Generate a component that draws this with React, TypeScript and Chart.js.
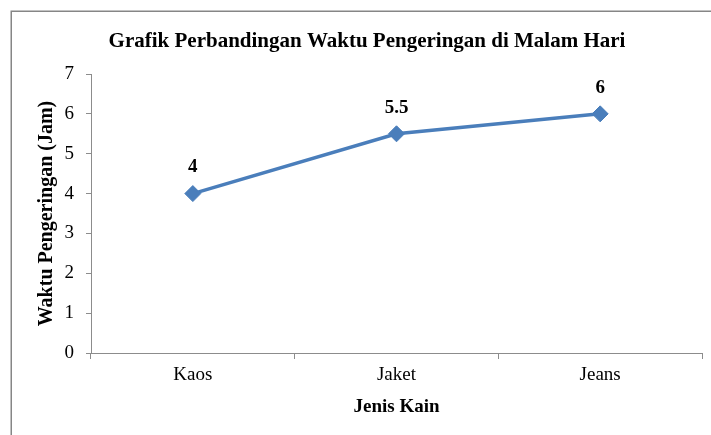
import React, { useEffect, useRef } from "react";
import { Chart, registerables } from "chart.js";

Chart.register(...registerables);

const categories = ["Kaos", "Jaket", "Jeans"];
const dryingHours = [4, 5.5, 6];
const yTicks = [0, 1, 2, 3, 4, 5, 6, 7];
const chartTitle = "Grafik Perbandingan Waktu Pengeringan di Malam Hari";
const xTitle = "Jenis Kain";
const yTitle = "Waktu Pengeringan (Jam)";

const SERIF = "'Liberation Serif', 'Times New Roman', serif";
const LINE = "#4a7ebb";
const AXIS = "#8c8c8c";

const framePlugin = {
  id: "frame",
  beforeDraw(chart: any) {
    const ctx = chart.ctx;
    ctx.save();
    ctx.fillStyle = "#ffffff";
    ctx.fillRect(0, 0, chart.width, chart.height);
    ctx.strokeStyle = "#868686";
    ctx.lineWidth = 1.5;
    ctx.beginPath();
    ctx.moveTo(11.25, chart.height + 5);
    ctx.lineTo(11.25, 11.25);
    ctx.lineTo(chart.width + 5, 11.25);
    ctx.stroke();
    ctx.fillStyle = "#000";
    ctx.font = `bold 21px ${SERIF}`;
    ctx.textAlign = "center";
    ctx.textBaseline = "middle";
    ctx.fillText(chartTitle, 367, 42);
    ctx.restore();
  },
};

const labelPlugin = {
  id: "pointLabels",
  afterDatasetsDraw(chart: any) {
    const ctx = chart.ctx;
    const meta = chart.getDatasetMeta(0);
    ctx.save();
    ctx.font = `bold 19px ${SERIF}`;
    ctx.fillStyle = "#000";
    ctx.textAlign = "center";
    ctx.textBaseline = "middle";
    meta.data.forEach((pt: any, i: number) => {
      ctx.fillText(String(dryingHours[i]), pt.x, pt.y - 26);
    });
    ctx.restore();
  },
};

export default function App() {
  const ref = useRef<HTMLCanvasElement | null>(null);
  useEffect(() => {
    document.body.style.margin = "0";
    const canvas = ref.current;
    if (!canvas) return;
    const chart = new Chart(canvas, {
      type: "line",
      data: {
        labels: categories,
        datasets: [
          {
            data: dryingHours,
            borderColor: LINE,
            backgroundColor: LINE,
            borderWidth: 3.5,
            pointStyle: "rectRot",
            pointRadius: 8,
            pointBorderWidth: 1,
            pointBorderColor: LINE,
            pointBackgroundColor: LINE,
            tension: 0,
          },
        ],
      },
      options: {
        animation: false,
        responsive: false,
        devicePixelRatio: 1,
        layout: { padding: { left: 13, right: 8, top: 74, bottom: 0 } },
        plugins: {
          legend: { display: false },
          tooltip: { enabled: false },
          title: { display: false },
        },
        scales: {
          x: {
            type: "category",
            offset: true,
            grid: {
              offset: true,
              drawOnChartArea: false,
              drawTicks: true,
              tickLength: 6,
              color: AXIS,
            },
            border: { display: true, color: AXIS, width: 1 },
            ticks: {
              color: "#000",
              font: { family: SERIF, size: 19 },
              padding: 5,
            },
            title: {
              display: true,
              text: xTitle,
              color: "#000",
              font: { family: SERIF, size: 19, weight: "bold" },
              padding: { top: 0, bottom: 17 },
            },
            afterFit(scale: any) {
              scale.height = 82;
            },
          },
          y: {
            min: 0,
            max: 7,
            afterBuildTicks(scale: any) {
              scale.ticks = yTicks.map((v) => ({ value: v }));
            },
            grid: {
              drawOnChartArea: false,
              drawTicks: true,
              tickLength: 5,
              color: AXIS,
            },
            border: { display: true, color: AXIS, width: 1 },
            ticks: {
              color: "#000",
              font: { family: SERIF, size: 19 },
              padding: 12,
            },
            title: {
              display: true,
              text: yTitle,
              color: "#000",
              font: { family: SERIF, size: 20, weight: "bold" },
              padding: { top: 22, bottom: 0 },
            },
            afterFit(scale: any) {
              scale.width = 78;
            },
          },
        },
      },
      plugins: [framePlugin, labelPlugin],
    } as any);
    return () => chart.destroy();
  }, []);
  return (
    <canvas
      ref={ref}
      width={711}
      height={435}
      style={{ display: "block", width: 711, height: 435 }}
    />
  );
}
